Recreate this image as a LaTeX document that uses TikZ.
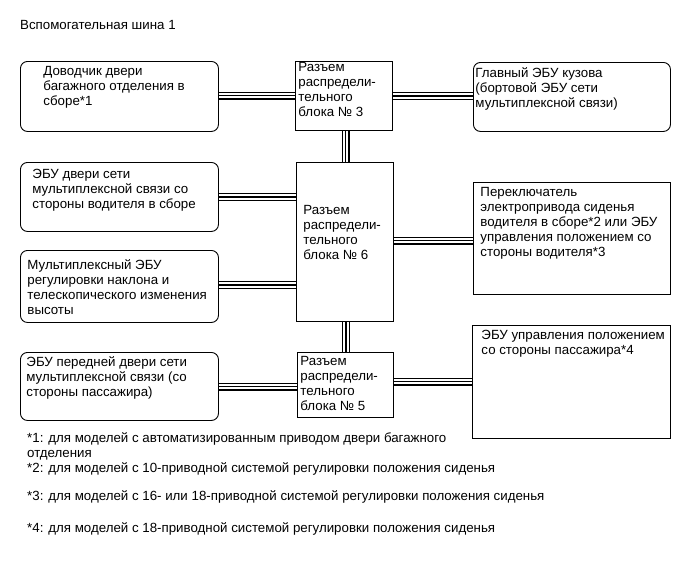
\documentclass[tikz,border=0pt]{standalone}
\usepackage{fontspec}
\setmainfont{Liberation Sans}
% box text: width, height, left pad, top pad, lines
\newcommand{\blk}[5]{\parbox[c][#2pt][t]{#1pt}{\leftskip=#3pt\rightskip=0pt plus 1fil\vspace*{#4pt}#5}}
\tikzset{
  unit/.style={draw, line width=0.9pt, inner sep=0pt, anchor=north west},
  ecu/.style={unit, rounded corners=7pt},
  bus/.style={preaction={draw=black, line width=8pt}, draw=white, line width=5.2pt,
    postaction={draw=black, line width=1.1pt}},
  note/.style={anchor=west, inner sep=0pt, align=left}
}
\begin{document}
\begin{tikzpicture}[x=1pt, y=-1pt, every node/.style={font=\fontsize{13.3}{15}\selectfont}]
    \useasboundingbox (0,0) rectangle (690,562);
    \node[note] (title) at (20,25) {Вспомогательная шина 1};
    % left column
    \node[ecu] (dovod) at (20,61) {\blk{198}{70}{23}{5}{Доводчик двери\\багажного отделения в\\сборе*1}};
    \node[ecu] (dverv) at (20,162) {\blk{198}{69}{12}{7}{ЭБУ двери сети\\мультиплексной связи со\\стороны водителя в сборе}};
    \node[ecu] (naklon) at (20,250) {\blk{198}{72}{7}{9}{Мультиплексный ЭБУ\\регулировки наклона и\\телескопического изменения\\высоты}};
    \node[ecu] (dverp) at (20,352) {\blk{198}{68}{6}{4}{ЭБУ передней двери сети\\мультиплексной связи (со\\стороны пассажира)}};
    % junction blocks
    \node[unit] (razem3) at (295,61) {\blk{97}{69}{3}{1}{Разъем\\распредели-\\тельного\\блока № 3}};
    \node[unit] (razem6) at (296,162) {\blk{97}{159}{7}{43}{Разъем\\распредели-\\тельного\\блока № 6}};
    \node[unit] (razem5) at (297,352) {\blk{96}{65}{3}{4}{Разъем\\распредели-\\тельного\\блока № 5}};
    % right column
    \node[ecu] (glavn) at (473,62) {\blk{197}{69}{2}{5}{Главный ЭБУ кузова\\(бортовой ЭБУ сети\\мультиплексной связи)}};
    \node[unit] (siden) at (473,182) {\blk{197}{112}{7}{5}{Переключатель\\электропривода сиденья\\водителя в сборе*2 или ЭБУ\\управления положением со\\стороны водителя*3}};
    \node[unit] (passazh) at (472,325) {\blk{198}{113}{9}{5}{ЭБУ управления положением\\со стороны пассажира*4}};
    % шины
    \draw[bus] (dovod.east |- 0,95.5) -- (razem3.west |- 0,95.5);
    \draw[bus] (razem3.east |- 0,96) -- (glavn.west |- 0,96);
    \draw[bus] (razem3.south -| 345.5,0) -- (razem6.north -| 345.5,0);
    \draw[bus] (dverv.east |- 0,197) -- (razem6.west |- 0,197);
    \draw[bus] (naklon.east |- 0,285) -- (razem6.west |- 0,285);
    \draw[bus] (razem6.east |- 0,240.5) -- (siden.west |- 0,240.5);
    \draw[bus] (razem6.south -| 346,0) -- (razem5.north -| 346,0);
    \draw[bus] (dverp.east |- 0,386.5) -- (razem5.west |- 0,386.5);
    \draw[bus] (razem5.east |- 0,381.5) -- (passazh.west |- 0,381.5);
    % примечания
    \node[note] (fn1) at (27,446) {*1: для моделей с автоматизированным приводом двери багажного\\отделения};
    \node[note] (fn2) at (27,468.5) {*2: для моделей с 10-приводной системой регулировки положения сиденья};
    \node[note] (fn3) at (27,497) {*3: для моделей с 16- или 18-приводной системой регулировки положения сиденья};
    \node[note] (fn4) at (27,529) {*4: для моделей с 18-приводной системой регулировки положения сиденья};
\end{tikzpicture}
\end{document}
